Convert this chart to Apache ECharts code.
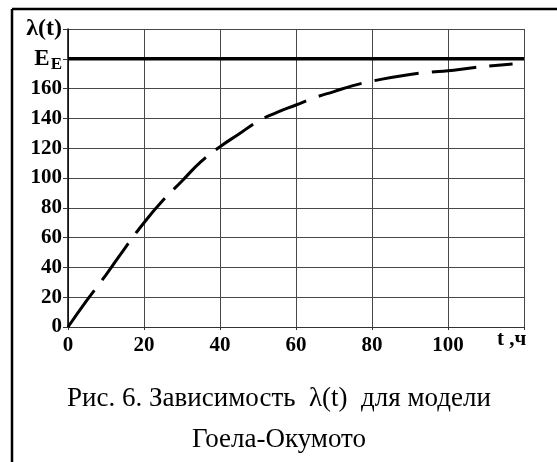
<!DOCTYPE html>
<html>
<head>
<meta charset="utf-8">
<script src="https://cdn.jsdelivr.net/npm/echarts@6/dist/echarts.min.js"></script>
<style>
html,body{margin:0;padding:0;background:#fff;}
#chart{width:557px;height:462px;}
</style>
</head>
<body>
<div id="chart"></div>
<script>
// Data
var tHours = [0, 5, 10, 15, 20, 25, 30, 35, 40, 45, 50, 55, 60, 65, 70, 75, 80, 85, 90, 95, 100, 105, 110, 117];
var lambdaValues = [0, 18, 35, 53, 70, 85, 98, 111, 121, 129.5, 138, 144, 149, 154, 158, 162, 165, 167.5, 169.5, 171, 172, 173.5, 175, 176.5];
var limitValue = 180;          // E_E level
var limitSpan = [0, 120];      // drawn across the full x range
var xTickLabels = ['0', '20', '40', '60', '80', '100'];
var yTickLabels = ['0', '20', '40', '60', '80', '100', '120', '140', '160'];
var xAxisName = 't ,ч';
var captionLine1 = 'Рис. 6. Зависимость  λ(t)  для модели';
var captionLine2 = 'Гоела-Окумото';

var curve = tHours.map(function (t, i) { return [t, lambdaValues[i]]; });
var limitLine = limitSpan.map(function (t) { return [t, limitValue]; });

var chart = echarts.init(document.getElementById('chart'), null, {renderer: 'canvas'});
var serif = '"Liberation Serif", "Times New Roman", serif';

chart.setOption({
  backgroundColor: '#fff',
  animation: false,
  grid: {left: 68, right: 33, top: 29, bottom: 135, show: false},
  xAxis: {
    type: 'value', min: 0, max: 120, interval: 20,
    name: xAxisName, nameLocation: 'end', nameGap: -27,
    nameTextStyle: {fontFamily: serif, fontWeight: 'bold', fontSize: 21, color: '#000',
      align: 'left', verticalAlign: 'top', padding: [2, 0, 0, 0]},
    axisLine: {show: true, lineStyle: {color: '#333', width: 1}},
    axisTick: {show: true, length: 3, inside: false, lineStyle: {color: '#333'}},
    splitLine: {show: true, lineStyle: {color: '#484848', width: 1}},
    axisLabel: {
      margin: 8, fontFamily: serif, fontWeight: 'bold', fontSize: 21, color: '#000',
      formatter: function (v) { var s = String(v); return xTickLabels.indexOf(s) >= 0 ? s : ''; }
    }
  },
  yAxis: {
    type: 'value', min: 0, max: 200, interval: 20,
    axisLine: {show: true, lineStyle: {color: '#000', width: 1.5}},
    axisTick: {show: true, length: 5, lineStyle: {color: '#333'}},
    splitLine: {show: true, lineStyle: {color: '#484848', width: 1}},
    axisLabel: {
      margin: 6, fontFamily: serif, fontWeight: 'bold', fontSize: 21, color: '#000',
      formatter: function (v) {
        var s = String(v);
        if (v === 200) return '{l|λ(t)}';
        if (v === limitValue) return '{e|E}{s|E}';
        return yTickLabels.indexOf(s) >= 0 ? s : '';
      },
      rich: {
        l: {fontFamily: serif, fontWeight: 'bold', fontSize: 24, color: '#000'},
        e: {fontFamily: serif, fontWeight: 'bold', fontSize: 23, color: '#000'},
        s: {fontFamily: serif, fontWeight: 'bold', fontSize: 17, color: '#000', padding: [12, 0, 0, 1]}
      }
    }
  },
  series: [
    {
      type: 'line', data: limitLine, showSymbol: false, silent: true,
      lineStyle: {color: '#000', width: 3.5, type: 'solid'}
    },
    {
      type: 'line', data: curve, smooth: true, showSymbol: false, silent: true,
      lineStyle: {color: '#000', width: 3, type: [45, 13]}
    }
  ],
  graphic: [
    {type: 'line', shape: {x1: 12, y1: 9, x2: 557, y2: 9}, style: {stroke: '#000', lineWidth: 2.5}},
    {type: 'line', shape: {x1: 12, y1: 9, x2: 12, y2: 462}, style: {stroke: '#000', lineWidth: 2.5}},
    {type: 'text', x: 279, y: 399, style: {text: captionLine1, font: '27px "Liberation Serif", serif', fill: '#000', align: 'center', verticalAlign: 'middle'}},
    {type: 'text', x: 279, y: 440, style: {text: captionLine2, font: '27px "Liberation Serif", serif', fill: '#000', align: 'center', verticalAlign: 'middle'}}
  ]
});
</script>
</body>
</html>
